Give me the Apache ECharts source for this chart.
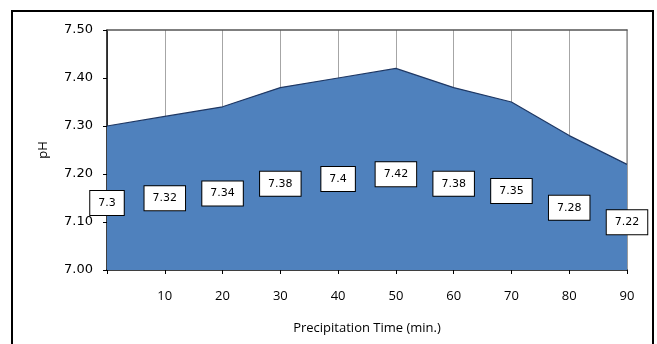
<!DOCTYPE html>
<html>
<head>
<meta charset="utf-8">
<script src="https://cdn.jsdelivr.net/npm/echarts@6/dist/echarts.min.js"></script>
<style>
  html, body { margin: 0; padding: 0; background: #fff; overflow: hidden; }
  #chart { width: 657px; height: 344px; }
</style>
</head>
<body>
<div id="chart"></div>
<script>
// Precipitation time (minutes) and measured pH
const times = ['0', '10', '20', '30', '40', '50', '60', '70', '80', '90'];
const phValues = [7.3, 7.32, 7.34, 7.38, 7.4, 7.42, 7.38, 7.35, 7.28, 7.22];
const yTicks = { min: 7.0, max: 7.5, step: 0.1 };

const chart = echarts.init(document.getElementById('chart'), null, { renderer: 'canvas' });

const tickFont = '"DejaVu Sans", Verdana, sans-serif';
const axisFont = '"Open Sans", "Noto Sans", sans-serif';

chart.setOption({
  animation: false,
  backgroundColor: '#ffffff',
  graphic: [{
    // frame around the chart (its bottom edge runs below the page)
    type: 'polyline',
    shape: { points: [[12, 350], [12, 11], [653, 11], [653, 350]] },
    style: { fill: null, stroke: '#000000', lineWidth: 2 },
    silent: true,
    z: 100
  }],
  grid: { left: 107, top: 30, right: 30, bottom: 74 },
  xAxis: [{
    type: 'category',
    data: times,
    boundaryGap: false,
    name: 'Precipitation Time (min.)',
    nameLocation: 'middle',
    nameGap: 52,
    nameTextStyle: { fontFamily: axisFont, fontSize: 13, color: '#000' },
    axisLine: { lineStyle: { color: '#000', width: 1.5 } },
    axisTick: { show: true, length: 4, interval: 0, lineStyle: { color: '#000' } },
    axisLabel: {
      interval: 0, margin: 20,
      fontFamily: axisFont, fontSize: 13, color: '#000',
      formatter: (v, i) => (i === 0 ? '' : v)
    },
    splitLine: { show: true, interval: 0, lineStyle: { color: '#a6a6a6', width: 1 } },
    z: 0
  }, {
    type: 'category',
    data: times,
    position: 'top',
    boundaryGap: false,
    axisLine: { lineStyle: { color: '#555', width: 1.5 } },
    axisTick: { show: false },
    axisLabel: { show: false }
  }],
  yAxis: [{
    type: 'value',
    min: yTicks.min, max: yTicks.max, interval: yTicks.step,
    name: 'pH',
    nameLocation: 'middle',
    nameRotate: 90,
    nameGap: 57,
    nameTextStyle: { fontFamily: axisFont, fontSize: 13, color: '#000' },
    axisLine: { show: true, lineStyle: { color: '#000', width: 1.5 } },
    axisTick: { show: true, length: 4, inside: false, lineStyle: { color: '#000' } },
    axisLabel: {
      margin: 14,
      fontFamily: tickFont, fontSize: 13, color: '#000',
      formatter: v => v.toFixed(2)
    },
    splitLine: { show: false }
  }, {
    type: 'value',
    min: yTicks.min, max: yTicks.max, interval: yTicks.step,
    position: 'right',
    axisLine: { show: true, lineStyle: { color: '#999', width: 1.5 } },
    axisTick: { show: false },
    axisLabel: { show: false },
    splitLine: { show: false }
  }],
  series: [{
    // filled pH area
    type: 'line',
    data: phValues,
    symbol: 'none',
    lineStyle: { color: '#1f3864', width: 1.2 },
    areaStyle: { color: '#4f81bd', opacity: 1, origin: 'start' },
    z: 3
  }, {
    // transparent columns carrying the value labels at mid-height of the area
    type: 'bar',
    data: phValues,
    barWidth: 1,
    itemStyle: { color: 'rgba(0,0,0,0)' },
    label: {
      show: true,
      position: 'inside',
      offset: [0, 5],
      fontFamily: tickFont,
      fontSize: 11,
      color: '#000',
      backgroundColor: '#ffffff',
      borderColor: '#000',
      borderWidth: 1,
      padding: [7, 8, 6, 8],
      formatter: p => String(p.value)
    },
    z: 5
  }]
});
</script>
</body>
</html>
